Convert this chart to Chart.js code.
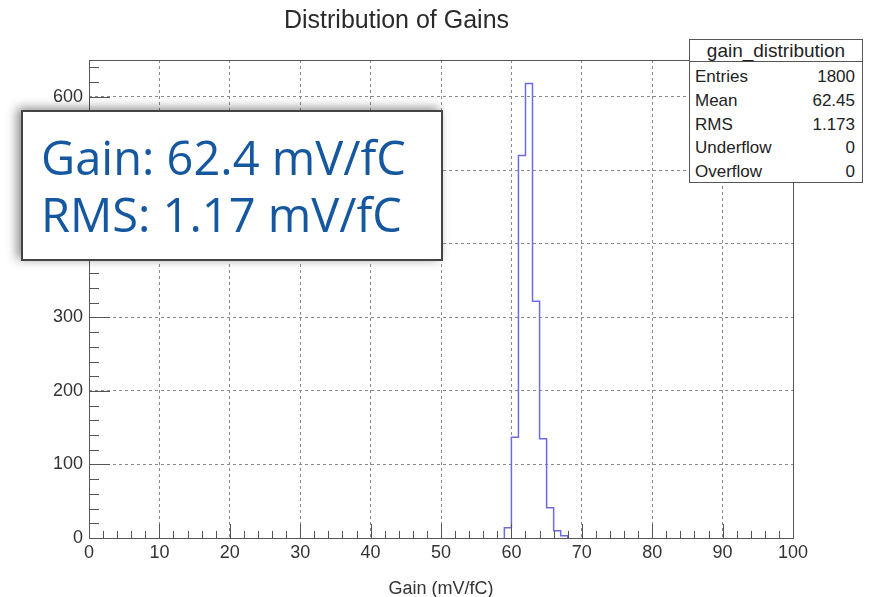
<!DOCTYPE html>
<html>
<head>
<meta charset="utf-8">
<script src="https://cdn.jsdelivr.net/npm/chart.js@4/dist/chart.umd.min.js"></script>
<style>
  body { margin: 0; background: #fff; }
  #wrap { position: relative; width: 880px; height: 597px; overflow: hidden; }
  #statBox {
    position: absolute; left: 689px; top: 39px; width: 172px; height: 142px;
    border: 1px solid #555; background: #fff;
    font-family: "Liberation Sans", Arial, sans-serif; color: #222;
  }
  #statBox .head { height: 21px; line-height: 21px; text-align: center; font-size: 19px; border-bottom: 1px solid #555; }
  #statBox .row { position: absolute; left: 5px; right: 7px; height: 20px; line-height: 20px; font-size: 17px; }
  #statBox .row span:last-child { position: absolute; right: 0; }
  #note {
    position: absolute; left: 21px; top: 110px; width: 418px; height: 147px;
    border: 2px solid #444; background: #fff;
    box-shadow: -4px -2px 10px rgba(0, 0, 0, 0.45);
  }
  #note div { position: absolute; left: 18px; font-family: "Open Sans", sans-serif; font-size: 47px; line-height: 47px; color: #1558a0; white-space: nowrap; }
</style>
</head>
<body>
<div id="wrap">
  <canvas id="gainChart" width="880" height="597"></canvas>
  <div id="statBox"><div class="head">gain_distribution</div></div>
  <div id="note"></div>
</div>
<script>
// histogram bins (low edge, width 1 mV/fC) and counts
const binLow = [59, 60, 61, 62, 63, 64, 65, 66, 67];
const counts = [14, 137, 520, 618, 322, 135, 41, 10, 3];
const binWidth = 1;

const xTicks = [0, 10, 20, 30, 40, 50, 60, 70, 80, 90, 100];
const yTicks = [0, 100, 200, 300, 400, 500, 600];

const statNames = ["Entries", "Mean", "RMS", "Underflow", "Overflow"];
const statValues = ["1800", "62.45", "1.173", "0", "0"];

const noteLines = ["Gain: 62.4 mV/fC", "RMS: 1.17 mV/fC"];

const FONT = "'Liberation Sans', Arial, sans-serif";

// step outline points, starting and ending on zero
const histPoints = [{ x: binLow[0], y: 0 }];
binLow.forEach((x, i) => histPoints.push({ x: x, y: counts[i] }));
histPoints.push({ x: binLow[binLow.length - 1] + binWidth, y: 0 });

// ROOT style frame with inward major/minor tick marks
const framePlugin = {
  id: "rootFrame",
  afterDatasetsDraw(chart) {
    const { ctx, chartArea: a, scales } = chart;
    ctx.save();
    ctx.strokeStyle = "#555";
    ctx.lineWidth = 1;
    ctx.beginPath();
    for (let v = 0; v <= 100; v += 2) {
      const px = Math.round(scales.x.getPixelForValue(v)) + 0.5;
      const len = v % 10 === 0 ? 14 : 7;
      ctx.moveTo(px, a.bottom);
      ctx.lineTo(px, a.bottom - len);
    }
    for (let v = 0; v < scales.y.max; v += 20) {
      const py = Math.round(scales.y.getPixelForValue(v)) + 0.5;
      const len = v % 100 === 0 ? 21 : 10;
      ctx.moveTo(a.left, py);
      ctx.lineTo(a.left + len, py);
    }
    ctx.stroke();
    ctx.strokeRect(Math.round(a.left) + 0.5, Math.round(a.top) + 0.5,
      Math.round(a.right - a.left), Math.round(a.bottom - a.top));
    ctx.restore();
  }
};

const ctx = document.getElementById("gainChart").getContext("2d");

const gainChart = new Chart(ctx, {
  type: "line",
  data: {
    datasets: [
      {
        data: histPoints,
        borderColor: "#6c6cdc",
        borderWidth: 1.5,
        pointRadius: 0,
        stepped: "before",
        fill: false
      }
    ]
  },
  options: {
    responsive: false,
    animation: false,
    devicePixelRatio: 1,
    layout: { padding: { left: 0, right: 87, top: 0, bottom: 0 } },
    plugins: {
      legend: { display: false },
      tooltip: { enabled: false },
      title: {
        display: true,
        text: "Distribution of Gains",
        color: "#2a2a2a",
        font: { family: FONT, size: 25, weight: "normal" },
        padding: { top: 6, bottom: 24 }
      }
    },
    scales: {
      x: {
        type: "linear",
        min: 0,
        max: 100,
        afterBuildTicks: (s) => { s.ticks = xTicks.map((v) => ({ value: v })); },
        afterFit: (s) => { s.height = 59; },
        ticks: { color: "#333", font: { family: FONT, size: 18 }, padding: 4, maxRotation: 0 },
        grid: { drawTicks: false, color: "#8a8a8a", lineWidth: 1 },
        border: { display: false, dash: [3, 3] },
        title: {
          display: true,
          text: "Gain (mV/fC)",
          color: "#333",
          font: { family: FONT, size: 18 },
          padding: { top: 0, bottom: -3 }
        }
      },
      y: {
        min: 0,
        max: 650,
        afterBuildTicks: (s) => { s.ticks = yTicks.map((v) => ({ value: v })); },
        afterFit: (s) => { s.width = 89; },
        ticks: { color: "#333", font: { family: FONT, size: 18 }, padding: 6 },
        grid: { drawTicks: false, color: "#8a8a8a", lineWidth: 1 },
        border: { display: false, dash: [3, 3] }
      }
    }
  },
  plugins: [framePlugin]
});

// stats box rows
const statBox = document.getElementById("statBox");
statNames.forEach((name, i) => {
  const row = document.createElement("div");
  row.className = "row";
  row.style.top = (27 + i * 23.8) + "px";
  row.innerHTML = "<span>" + name + "</span><span>" + statValues[i] + "</span>";
  statBox.appendChild(row);
});

// overlay text box
const note = document.getElementById("note");
noteLines.forEach((t, i) => {
  const d = document.createElement("div");
  d.textContent = t;
  d.style.top = (22 + i * 57) + "px";
  note.appendChild(d);
});
</script>
</body>
</html>
